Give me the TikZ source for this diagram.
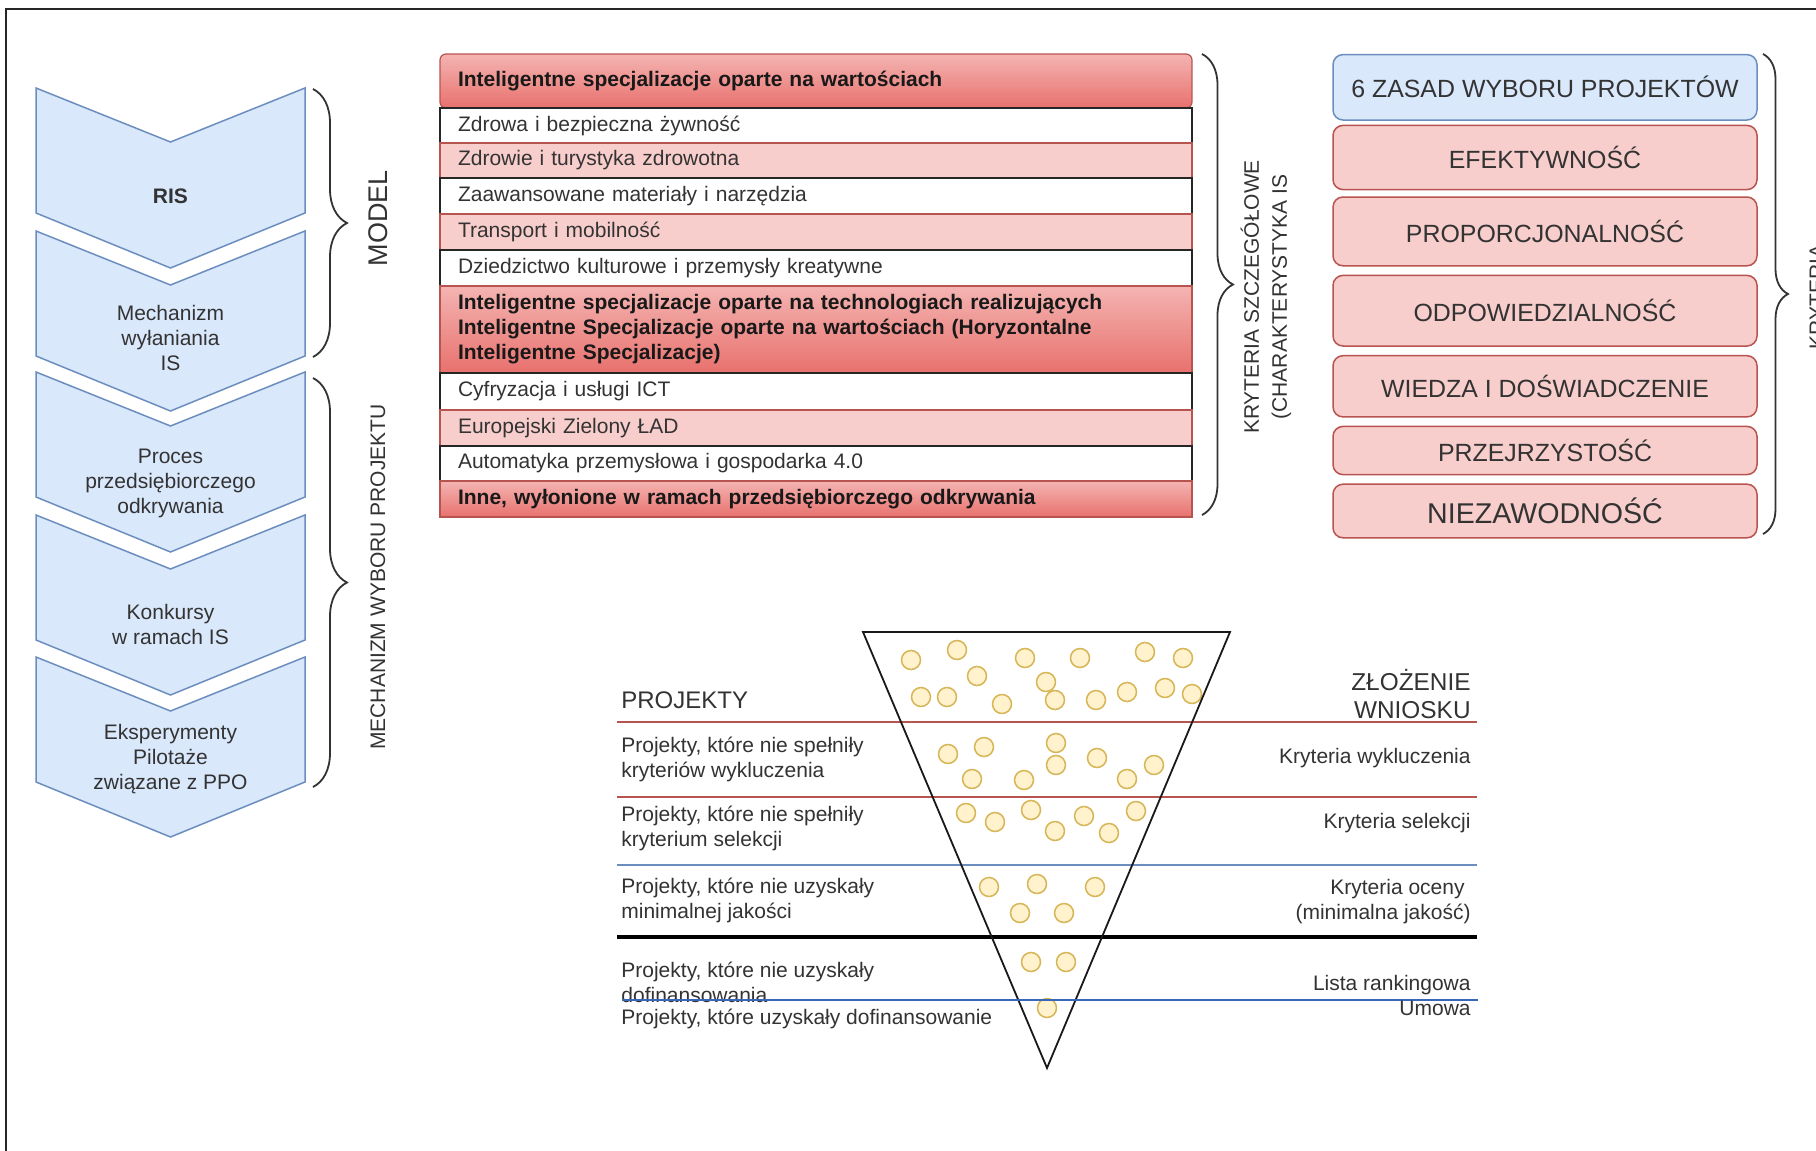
\documentclass[tikz,border=0pt]{standalone}
\usepackage{fontspec}
\setmainfont{Liberation Sans}
\usetikzlibrary{decorations.pathreplacing}
\definecolor{chevfill}{HTML}{DAE8FC}
\definecolor{chevdraw}{HTML}{6C8EBF}
\definecolor{pinkfill}{HTML}{F8CECC}
\definecolor{reddraw}{HTML}{B85450}
\definecolor{hdtop}{HTML}{F4B4B2}
\definecolor{hdbot}{HTML}{E8716D}
\definecolor{txt}{HTML}{333333}
\definecolor{ballfill}{HTML}{FFF2CC}
\definecolor{balldraw}{HTML}{D6B656}
\definecolor{thinblue}{HTML}{3A66B8}
\begin{document}
\begin{tikzpicture}[x=0.5pt,y=-0.5pt,
  chev/.style={fill=chevfill,draw=chevdraw,line width=0.75pt},
  chevtext/.style={text=txt,align=center,font=\fontsize{10.5pt}{12.5pt}\selectfont,inner sep=0pt},
  tblrow/.style={text width=358pt,inner xsep=9pt,inner ysep=0pt,align=left,font=\fontsize{10.5pt}{12.5pt}\selectfont,text=txt,line width=0.6pt},
  whiterow/.style={tblrow,fill=white,draw=black!85},
  pinkrow/.style={tblrow,fill=pinkfill,draw=reddraw},
  headrow/.style={tblrow,top color=hdtop,bottom color=hdbot,draw=reddraw,font=\fontsize{10.5pt}{12.5pt}\selectfont\bfseries,text=black!90},
  zbox/.style={rounded corners=5pt,minimum width=212pt,text=txt,font=\fontsize{12.45pt}{14pt}\selectfont,line width=0.75pt,inner sep=0pt},
  zpink/.style={zbox,fill=pinkfill,draw=reddraw},
  zblue/.style={zbox,fill=chevfill,draw=chevdraw},
  bracestyle/.style={decorate,draw=txt,line width=0.9pt},
  sidelabel/.style={text=txt,rotate=90,inner sep=0pt,align=center},
  ftext/.style={text=txt,font=\fontsize{10.5pt}{12.5pt}\selectfont,inner sep=0pt,align=left},
  rtext/.style={text=txt,font=\fontsize{10.5pt}{12.5pt}\selectfont,inner sep=0pt,align=right},
  ball/.style={circle,fill=ballfill,draw=balldraw,line width=0.75pt,minimum size=9.5pt,inner sep=0pt},
  redline/.style={draw=reddraw,line width=1.4pt},
  blueline/.style={draw=chevdraw,line width=1.4pt},
  blackline/.style={draw=black,line width=2pt},
  thinline/.style={draw=thinblue,line width=0.7pt}
]
\useasboundingbox (0,0) rectangle (1816,1151);
\clip (0,0) rectangle (1816,1151);
\fill[white] (0,0) rectangle (1816,1151);

% frame
\draw[line width=1pt,black!85] (6,1151) -- (6,9) -- (1816,9);

% chevrons
\foreach \y in {88,231,372,515,657}{
  \draw[chev] (36,\y) -- (170.5,\y+54) -- (305,\y) -- (305,\y+125) -- (170.5,\y+180) -- (36,\y+125) -- cycle;
}
\node[chevtext,font=\fontsize{10.5pt}{12.5pt}\selectfont\bfseries] (ris) at (170.5,196) {RIS};
\node[chevtext] (mech) at (170.5,338) {Mechanizm\\wyłaniania\\IS};
\node[chevtext] (proc) at (170.5,483) {Proces\\przedsiębiorczego\\odkrywania};
\node[chevtext] (konk) at (170.5,624.5) {Konkursy\\w ramach IS};
\node[chevtext] (eksp) at (170.5,759) {Eksperymenty\\Pilotaże\\związane z PPO};

% braces left
\coordinate (mt) at (313,89);
\coordinate (mb) at (313,357);
\draw[bracestyle,decoration={brace,amplitude=17pt}] (mt) -- (mb);
\node[sidelabel,font=\fontsize{13.5pt}{15pt}\selectfont] (model) at (378,218) {MODEL};
\coordinate (wt) at (313,378);
\coordinate (wb) at (313,787);
\draw[bracestyle,decoration={brace,amplitude=17pt}] (wt) -- (wb);
\node[sidelabel,font=\fontsize{10.5pt}{12.5pt}\selectfont] (wyb) at (378,577) {MECHANIZM WYBORU PROJEKTU};

% table
\node[headrow,minimum height=27pt,rounded corners=3pt] (h1) at (816,81) {Inteligentne specjalizacje oparte na wartościach};
\node[whiterow,minimum height=17.5pt] (r1) at (816,125.5) {Zdrowa i bezpieczna żywność};
\node[pinkrow,minimum height=17.5pt] (r2) at (816,160.5) {Zdrowie i turystyka zdrowotna};
\node[whiterow,minimum height=18pt] (r3) at (816,196) {Zaawansowane materiały i narzędzia};
\node[pinkrow,minimum height=18pt] (r4) at (816,232) {Transport i mobilność};
\node[whiterow,minimum height=18pt] (r5) at (816,268) {Dziedzictwo kulturowe i przemysły kreatywne};
\node[headrow,minimum height=43.5pt] (h2) at (816,329.5) {Inteligentne specjalizacje oparte na technologiach realizujących\\Inteligentne Specjalizacje oparte na wartościach (Horyzontalne\\Inteligentne Specjalizacje)};
\node[whiterow,minimum height=18.5pt] (r6) at (816,391.5) {Cyfryzacja i usługi ICT};
\node[pinkrow,minimum height=18pt] (r7) at (816,428) {Europejski Zielony ŁAD};
\node[whiterow,minimum height=17.5pt] (r8) at (816,463.5) {Automatyka przemysłowa i gospodarka 4.0};
\node[headrow,minimum height=18pt] (h3) at (816,499) {Inne, wyłonione w ramach przedsiębiorczego odkrywania};

\coordinate (tt) at (1202,54);
\coordinate (tb) at (1202,515);
\draw[bracestyle,decoration={brace,amplitude=15.5pt}] (tt) -- (tb);
\node[sidelabel,font=\fontsize{10.5pt}{14pt}\selectfont] (kszcz) at (1266,297) {KRYTERIA SZCZEGÓŁOWE\\(CHARAKTERYSTYKA IS};

% right boxes
\node[zblue,minimum height=32.7pt] (z0) at (1545,87.3) {6 ZASAD WYBORU PROJEKTÓW};
\node[zpink,minimum height=32.1pt] (z1) at (1545,157.5) {EFEKTYWNOŚĆ};
\node[zpink,minimum height=34.4pt] (z2) at (1545,231.4) {PROPORCJONALNOŚĆ};
\node[zpink,minimum height=35.3pt] (z3) at (1545,310.7) {ODPOWIEDZIALNOŚĆ};
\node[zpink,minimum height=30.6pt] (z4) at (1545,386.3) {WIEDZA I DOŚWIADCZENIE};
\node[zpink,minimum height=24.1pt] (z5) at (1545,450.5) {PRZEJRZYSTOŚĆ};
\node[zpink,minimum height=26.8pt,font=\fontsize{14.3pt}{16pt}\selectfont] (z6) at (1545,511) {NIEZAWODNOŚĆ};

\coordinate (zt) at (1763,54);
\coordinate (zb) at (1763,534);
\draw[bracestyle,decoration={brace,amplitude=12.5pt}] (zt) -- (zb);
\node[sidelabel,font=\fontsize{10.5pt}{12.5pt}\selectfont] (kog) at (1817,297) {KRYTERIA};

% funnel balls
\foreach \bx/\by [count=\i] in {911/660,957/650,977/676,1025/658,1080/658,1046/682,921/697,947/697,1002/704,1055/700,1096/700,1127/692,1145/652,1183/658,1165/688,1192/694,
  948/754,984/747,1056/743,1056/765,972/779,1024/780,1097/758,1127/779,1154/765,
  966/813,995/822,1031/810,1055/831,1084/816,1109/833,1136/811,
  989/887,1037/884,1095/887,1020/913,1064/913,
  1031/962,1066/962,1047/1008}{
  \node[ball] (ball\i) at (\bx,\by) {};
}

% horizontal lines
\coordinate (l1a) at (617,722);  \coordinate (l1b) at (1477,722);
\coordinate (l2a) at (617,797);  \coordinate (l2b) at (1477,797);
\coordinate (l3a) at (617,865);  \coordinate (l3b) at (1477,865);
\coordinate (l4a) at (617,937);  \coordinate (l4b) at (1477,937);
\coordinate (l5a) at (622,1000); \coordinate (l5b) at (1478,1000);
\draw[redline] (l1a) -- (l1b);
\draw[redline] (l2a) -- (l2b);
\draw[blueline] (l3a) -- (l3b);
\draw[blackline] (l4a) -- (l4b);

% funnel triangle
\coordinate (ftl) at (863,632);
\coordinate (ftr) at (1230,632);
\coordinate (fbt) at (1047,1068);
\draw[line width=0.9pt,black!90] (ftl) -- (ftr) -- (fbt) -- cycle;

% left labels
\node[ftext,anchor=west,font=\fontsize{12pt}{14pt}\selectfont] (proj) at (621,700) {PROJEKTY};
\node[ftext,anchor=west] (p1) at (621,759.5) {Projekty, które nie spełniły\\kryteriów wykluczenia};
\node[ftext,anchor=west] (p2) at (621,828.5) {Projekty, które nie spełniły\\kryterium selekcji};
\node[ftext,anchor=west] (p3) at (621,900) {Projekty, które nie uzyskały\\minimalnej jakości};
\node[ftext,anchor=west] (p4) at (621,982) {Projekty, które nie uzyskały\\dofinansowania};
\node[ftext,anchor=west] (p5) at (621,1019) {Projekty, które uzyskały dofinansowanie};
\draw[thinline] (l5a) -- (l5b);

% right labels
\node[rtext,anchor=east,font=\fontsize{12.2pt}{14pt}\selectfont] (zloz) at (1471,694) {ZŁOŻENIE\\WNIOSKU};
\node[rtext,anchor=east] (k1) at (1471,758) {Kryteria wykluczenia};
\node[rtext,anchor=east] (k2) at (1471,823) {Kryteria selekcji};
\node[rtext,anchor=east] (k3) at (1471,901.5) {Kryteria oceny\hspace*{3pt}\\(minimalna jakość)};
\node[rtext,anchor=east] (k4) at (1471,995) {Lista rankingowa\\Umowa};
\end{tikzpicture}
\end{document}
